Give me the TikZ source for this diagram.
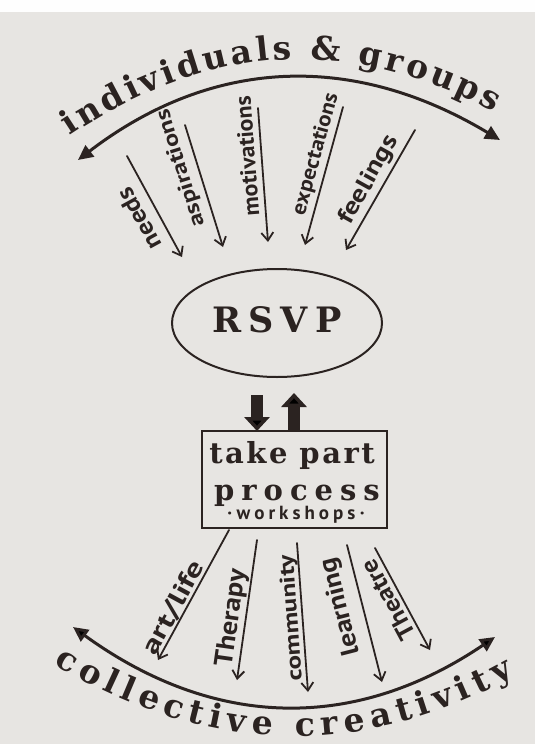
\documentclass[tikz,border=0pt]{standalone}
\usepackage{fontspec}
\usepackage{graphicx}
\usetikzlibrary{arrows.meta,decorations.text,shapes.geometric}
\newfontfamily\bserif{DejaVu Serif}
\newfontfamily\hand{PT Sans}
\definecolor{ink}{HTML}{2B2321}
\definecolor{paper}{HTML}{E7E5E2}
\newcommand{\hw}[3]{\resizebox{#1pt}{#2pt}{\hand\bfseries #3}}
\begin{document}
\begin{tikzpicture}[x=1pt,y=-1pt,
  inkline/.style={draw=ink, line cap=round, line join=round},
  bigarc/.style={inkline, line width=3pt, {Triangle[length=15pt,width=14pt]}-{Triangle[length=15pt,width=14pt]}},
  ray/.style={inkline, line width=1.8pt, -{Straight Barb[length=8pt,width=12pt]}},
  hwlabel/.style={inner sep=0pt, text=ink},
  blockarrow/.style={draw=ink, line width=12pt, line cap=butt, -{Triangle[length=14pt,width=25pt]}},
  boxtext/.style={inner sep=0pt, text=ink, anchor=base}
]
\fill[paper] (0,0) rectangle (535,744);
\fill[white!96!paper] (0,0) rectangle (535,12);
\useasboundingbox (0,0) rectangle (535,744);

% ---- top arc and title
\coordinate (tl) at (78,160);
\coordinate (tr) at (500,140);
\draw[bigarc] (tl) .. controls (211.3,58) and (352,51.3) .. (tr);
\path[decorate, decoration={text along path, text color=ink, text align={fit to path},
  text={|\bserif\bfseries\fontsize{33}{33}\selectfont|individuals {\&} groups}}]
  (70,136) .. controls (210.7,42.3) and (350.7,34.7) .. (494,112);

% ---- RSVP
\node[ellipse, draw=ink, line width=2pt, minimum width=210pt, minimum height=108pt, inner sep=0pt] (rsvp) at (277,323) {};
\node[boxtext] (rsvptext) at (277,332) {\bserif\bfseries\fontsize{35}{35}\selectfont R\kern7pt S\kern7pt V\kern7pt P};

% ---- top rays
\coordinate (n1) at (127,156);  \coordinate (n2) at (182,257);
\coordinate (a1) at (185,125);  \coordinate (a2) at (223,247);
\coordinate (m1) at (258,108);  \coordinate (m2) at (268,242);
\coordinate (e1) at (343,107);  \coordinate (e2) at (305,245);
\coordinate (f1) at (415,130);  \coordinate (f2) at (346,250);
\draw[ray] (n1) -- (n2);
\draw[ray] (a1) -- (a2);
\draw[ray] (m1) -- (m2);
\draw[ray] (e1) -- (e2);
\draw[ray] (f1) -- (f2);
\node[hwlabel, rotate=118.6] (lneeds) at (139,219) {\hw{67}{17}{needs}};
\node[hwlabel, rotate=107.3] (lasp) at (181,168) {\hw{122}{15}{aspirations}};
\node[hwlabel, rotate=94.3] (lmot) at (247,156) {\hw{120}{16}{motivations}};
\node[hwlabel, rotate=74.6] (lexp) at (316,154) {\hw{126}{15}{expectations}};
\node[hwlabel, rotate=60.9] (lfeel) at (369,180) {\hw{98}{17}{feelings}};

% ---- block arrows
\coordinate (da1) at (257,395); \coordinate (da2) at (257,431);
\coordinate (ua1) at (294,430); \coordinate (ua2) at (294,393);
\draw[blockarrow] (da1) -- (da2);
\draw[blockarrow] (ua1) -- (ua2);

% ---- box
\node[draw=ink, line width=2pt, minimum width=185pt, minimum height=97pt, inner sep=0pt] (box) at (294.5,479) {};
\node[boxtext] (take) at (292,463) {\bserif\bfseries\fontsize{29}{29}\selectfont t\kern2.5pt a\kern2.5pt k\kern2.5pt e\hspace{12pt}p\kern2.5pt a\kern2.5pt r\kern2.5pt t};
\node[boxtext] (process) at (297,500) {\bserif\bfseries\fontsize{29}{29}\selectfont p\kern7pt r\kern7pt o\kern7pt c\kern7pt e\kern7pt s\kern7pt s};
\node[boxtext] (work) at (296,519) {\hand\bfseries\fontsize{19}{19}\selectfont ·\kern4.5pt w\kern4pt o\kern4pt r\kern4pt k\kern4pt s\kern4pt h\kern4pt o\kern4pt p\kern4pt s\kern4.5pt ·};

% ---- bottom rays
\coordinate (r1) at (229,530);  \coordinate (r2) at (158,660);
\coordinate (t1) at (257,540);  \coordinate (t2) at (237,680);
\coordinate (c1) at (297,543);  \coordinate (c2) at (308,692);
\coordinate (l1) at (347,545);  \coordinate (l2) at (382,682);
\coordinate (h1) at (375,548);  \coordinate (h2) at (430,650);
\draw[ray] (r1) -- (r2);
\draw[ray] (t1) -- (t2);
\draw[ray] (c1) -- (c2);
\draw[ray] (l1) -- (l2);
\draw[ray] (h1) -- (h2);
\node[hwlabel, rotate=61.4] (lart) at (174,608) {\hw{103}{18}{art/life}};
\node[hwlabel, rotate=81.9] (lther) at (232,618) {\hw{98}{18}{Therapy}};
\node[hwlabel, rotate=94.2] (lcom) at (292,618) {\hw{127}{15}{community}};
\node[hwlabel, rotate=104.3] (llearn) at (341,607) {\hw{100}{18}{learning}};
\node[hwlabel, rotate=118.3] (lthea) at (388,600) {\hw{88}{17}{Theatre}};

% ---- bottom arc and title
\coordinate (bl) at (73,627);
\coordinate (br) at (495,637);
\draw[bigarc] (bl) .. controls (213.7,729) and (354.3,732.3) .. (br);
\path[decorate, decoration={text along path, text color=ink, text align={fit to path},
  text={|\bserif\bfseries\fontsize{33}{33}\selectfont|collective creativity}}]
  (54,664) .. controls (208.7,756) and (362,760) .. (514,676);
\end{tikzpicture}
\end{document}
